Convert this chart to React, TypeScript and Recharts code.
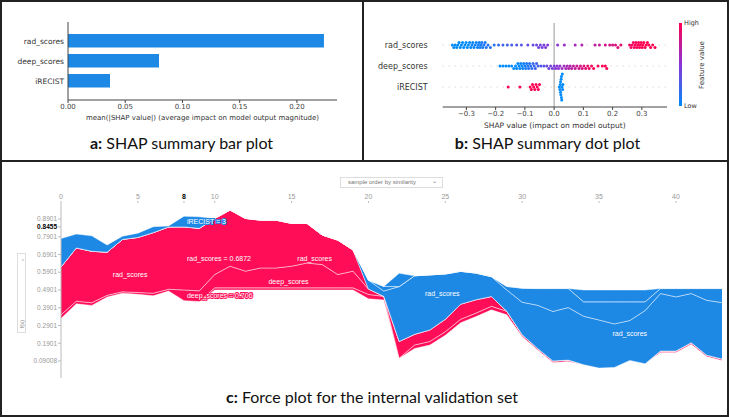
import React from 'react'
import {
  BarChart, Bar, XAxis, YAxis, ScatterChart, Scatter, ReferenceLine,
  ComposedChart, Area, ReferenceDot,
} from 'recharts'

// ---- panel a: mean |SHAP| ----
const features = ['rad_scores', 'deep_scores', 'iRECIST']
const meanAbsShap = [0.2236, 0.0795, 0.0367]
const barTicks = [0, 0.05, 0.1, 0.15, 0.2]

// ---- panel b: SHAP values per sample (dot plot) ----
const radDots = [
  -0.348, -0.343, -0.338, -0.333, -0.329, -0.325, -0.321, -0.317, -0.313, -0.309, -0.305, -0.301,
  -0.297, -0.293, -0.289, -0.285, -0.281, -0.278, -0.274, -0.27, -0.266, -0.262, -0.259, -0.256,
  -0.253, -0.25, -0.247, -0.244, -0.24, -0.236, -0.232, -0.226, -0.218,
  -0.205, -0.19, -0.175, -0.16, -0.145, -0.128, -0.112,
  -0.09, -0.072, -0.06, -0.053, -0.047, -0.041, -0.035, -0.029, -0.022,
  0.012, 0.035, 0.072, 0.095,
  0.14, 0.155, 0.175, 0.19, 0.2, 0.21, 0.218, 0.228,
  0.258, 0.263, 0.267, 0.271, 0.274, 0.277, 0.28, 0.283, 0.286, 0.289, 0.292, 0.295, 0.298,
  0.301, 0.304, 0.307, 0.311, 0.315, 0.319, 0.324, 0.33, 0.337, 0.345,
]
const deepDots = [
  -0.185, -0.175, -0.165, -0.155, -0.145, -0.138, -0.132, -0.128, -0.124, -0.12, -0.117, -0.114,
  -0.11, -0.107, -0.104, -0.1, -0.097, -0.094, -0.09, -0.087, -0.084, -0.08, -0.076, -0.072,
  -0.068, -0.064, -0.06, -0.055, -0.045, -0.035, -0.025, -0.018, -0.012, -0.006, 0, 0.005, 0.01,
  0.015, 0.02, 0.027, 0.034, 0.04, 0.045, 0.05, 0.055, 0.06, 0.066, 0.072, 0.078, 0.085, 0.09,
  0.096, 0.102, 0.108, 0.115, 0.12, 0.128, 0.135, 0.15, 0.165, 0.175, 0.18,
]
const irecDots = [
  -0.157, -0.117, -0.082, -0.078, -0.074, -0.07, -0.066, -0.062, -0.058, -0.054, -0.05,
  0.018, 0.02, 0.021, 0.022, 0.023, 0.024, 0.025, 0.026, 0.027, 0.028, 0.029, 0.03, 0.022, 0.025,
]
const dotTicks = [-0.3, -0.2, -0.1, 0, 0.1, 0.2, 0.3]

// ---- panel c: force plot, SHAP per sample ----
const baseValue = 0.4901
const radShap = [
  0.27, 0.3, 0.29, 0.243, 0.295, 0.31, 0.341, 0.351, 0.3554, 0.352,
  0.316, 0.316, 0.297, 0.269, 0.269, 0.241, 0.223, 0.166, 0.194, 0.119,
  -0.05, -0.03, -0.309, -0.33, -0.31, -0.255, -0.185, -0.15, -0.112, -0.12,
  -0.183, -0.243, -0.279, -0.296, -0.273, -0.271, -0.245, -0.225, -0.3, -0.324,
  -0.305, -0.277, -0.309, -0.318,
]
const deepShap = [
  0.02, 0.015, 0.015, 0.01, 0.008, 0.01, 0.015, 0.01, 0.06, 0.06,
  0.075, 0.122, 0.094, 0.112, 0.112, 0.122, 0.14, 0.131, 0.075, 0.094,
  0.03, -0.026, 0.094, 0.06, 0.065, 0.07, 0.085, 0.075, 0.055, -0.02,
  -0.079, -0.094, -0.129, -0.107, -0.081, -0.102, -0.124, -0.105, -0.049, -0.028,
  -0.047, -0.028, -0.066, -0.079,
]
const irecShap = [
  -0.16, -0.078, -0.087, -0.04, -0.018, -0.024, -0.033, -0.006, -0.06, -0.065,
  0.012, 0.012, 0.012, 0.012, 0.012, 0.012, 0.012, 0.012, 0.012, 0.012,
  0.025, 0.02, -0.075, 0.02, 0.02, 0.02, 0.02, 0.02, 0.02, 0.02,
  0.01, 0.008, 0.008, 0.008, -0.067, -0.067, -0.067, -0.067, -0.067, 0.008,
  0.008, 0.008, 0.008, 0.008,
]
const forceXTicks = [0, 5, 8, 10, 15, 20, 25, 30, 35, 40]
const forceYTicks = [0.09008, 0.1901, 0.2901, 0.3901, 0.4901, 0.5901, 0.6901, 0.7901, 0.8901, 0.8455]
const hoverSample = 8
const hoverOutput = 0.8455
const hoverValues = ['rad_scores = 0.6872', 'deep_scores = 0.706', 'iRECIST = 3']
const bandLabels = [
  { text: 'rad_scores', x: 4.5, y: 0.575 },
  { text: 'rad_scores', x: 16.5, y: 0.665 },
  { text: 'deep_scores', x: 14.8, y: 0.54 },
  { text: 'rad_scores', x: 24.8, y: 0.468 },
  { text: 'rad_scores', x: 37, y: 0.243 },
]

const RED = '#ff0d57'
const BLUE = '#1e88e5'
const SANS = 'Liberation Sans, Arial, sans-serif'

// shap red-blue colour map
function mix(t: number) {
  const s = [[0, 139, 251], [138, 52, 214], [255, 0, 82]]
  t = Math.max(0, Math.min(1, t))
  const k = t < 0.5 ? 0 : 1
  const u = t < 0.5 ? t * 2 : (t - 0.5) * 2
  const c = s[k].map((v, j) => Math.round(v + (s[k + 1][j] - v) * u))
  return `rgb(${c[0]},${c[1]},${c[2]})`
}

// simple beeswarm: offsets in row units
function swarm(values: number[], row: number, colorOf: (v: number) => string) {
  const pxPerUnit = 292, rowPx = 21, d = 2.6
  const placed: { x: number; y: number }[] = []
  return [...values].sort((a, b) => a - b).map((v) => {
    const x = v * pxPerUnit
    let k = 0, y = 0
    for (;;) {
      y = k === 0 ? 0 : (k % 2 ? 1 : -1) * Math.ceil(k / 2) * d
      if (placed.every((p) => Math.hypot(p.x - x, p.y - y) >= d)) break
      k++
    }
    placed.push({ x, y })
    return { x: v, y: row + y / rowPx, color: colorOf(v) }
  })
}

const radSwarm = swarm(radDots, 0, (v) => mix((v + 0.3) / 0.6))
const deepSwarm = swarm(deepDots, 1, (v) => mix((v + 0.12) / 0.26))
const irecSwarm = swarm(irecDots, 2, (v) => (v < 0 ? mix(1) : mix(0)))

const barData = features.map((name, i) => ({ name, value: meanAbsShap[i] }))

// stacked bands for force plot
const forceRows = radShap.map((_, i) => {
  const vals: [string, number][] = [['irec', irecShap[i]], ['deep', deepShap[i]], ['rad', radShap[i]]]
  const P = vals.reduce((s, [, v]) => s + Math.max(v, 0), 0)
  const N = vals.reduce((s, [, v]) => s + Math.max(-v, 0), 0)
  const fx = baseValue + P - N
  const row: any = { i, fx }
  let lo = baseValue - N
  for (const [k, v] of vals) {
    const p = Math.max(v, 0)
    row['r_' + k] = [lo, lo + p]
    lo += p
  }
  let hi = fx
  for (const [k, v] of [...vals].reverse()) {
    const n = Math.max(-v, 0)
    row['b_' + k] = [hi, hi + n]
    hi += n
  }
  return row
})

const hv = forceRows[hoverSample]
const mid = (r: number[]) => (r[0] + r[1]) / 2

const OutlinedLabel = (p: any) => {
  const { viewBox, text, color } = p
  return (
    <text x={viewBox.x + 3} y={viewBox.y} dy="0.35em" fontSize={7} fill="#fff"
      stroke={color} strokeWidth={2} paintOrder="stroke" fontFamily={SANS}>
      {text}
    </text>
  )
}

const XTick = (p: any) => {
  const bold = p.payload.value === hoverSample
  return (
    <text x={p.x} y={p.y - 1} textAnchor="middle" fontSize={7} fontWeight={bold ? 'bold' : 'normal'}
      fill={bold ? '#000' : '#999'} fontFamily={SANS}>
      {String(p.payload.value)}
    </text>
  )
}

const YTick = (p: any) => {
  const bold = p.payload.value === hoverOutput
  return (
    <text x={p.x} y={p.y} dy="0.35em" textAnchor="end" fontSize={6.5} fontWeight={bold ? 'bold' : 'normal'}
      fill={bold ? '#000' : '#999'} fontFamily={SANS}>
      {String(p.payload.value)}
    </text>
  )
}

const fmtDot = (v: number) => (v === 0 ? '0.0' : (v < 0 ? '\u2212' : '') + Math.abs(v).toFixed(1))

const caption: React.CSSProperties = {
  position: 'absolute', textAlign: 'center', fontFamily: 'Lato, "Open Sans", sans-serif',
  fontSize: 16, lineHeight: '20px', color: '#111',
}

const forceMargin = { top: 23, right: 8, bottom: 12, left: 0 }

export default function App() {
  return (
    <div style={{ position: 'absolute', left: 0, top: 0, width: 730, height: 417, background: '#fff',
      fontFamily: '"DejaVu Sans", sans-serif', overflow: 'hidden' }}>
      {/* frames */}
      <div style={{ position: 'absolute', left: 0, top: 0, width: 729, height: 417, border: '2px solid #222', boxSizing: 'border-box' }} />
      <div style={{ position: 'absolute', left: 362, top: 0, width: 2, height: 161, background: '#222' }} />
      <div style={{ position: 'absolute', left: 0, top: 160, width: 729, height: 2, background: '#222' }} />

      {/* a */}
      <div style={{ position: 'absolute', left: 0, top: 0 }}>
        <BarChart width={363} height={130} layout="vertical" data={barData}
          margin={{ top: 22, right: 26, bottom: 0, left: 0 }}>
          <XAxis type="number" domain={[0, 0.235]} ticks={barTicks} tickFormatter={(v) => v.toFixed(2)}
            interval={0} tick={{ fontSize: 7, fill: '#444' }} tickSize={3} tickMargin={1} height={30}
            axisLine={{ stroke: '#444' }} tickLine={{ stroke: '#444' }}
            label={{ value: 'mean(|SHAP value|) (average impact on model output magnitude)', position: 'insideBottom',
              offset: 10, fontSize: 7, fill: '#333' }} />
          <YAxis type="category" dataKey="name" width={68} tick={{ fontSize: 7.5, fill: '#333' }}
            tickSize={2} tickMargin={2} tickLine={false} axisLine={{ stroke: '#444' }} padding={{ top: 9, bottom: 9 }} />
          <Bar dataKey="value" fill={BLUE} barSize={13.5} isAnimationActive={false} />
        </BarChart>
      </div>
      <div style={{ ...caption, left: 0, top: 133, width: 363 }}><b>a:</b> SHAP summary bar plot</div>

      {/* b */}
      <div style={{ position: 'absolute', left: 365, top: 0 }}>
        <ScatterChart width={365} height={135} margin={{ top: 23, right: 63, bottom: 0, left: 0 }}>
          <XAxis type="number" dataKey="x" domain={[-0.381, 0.386]} ticks={dotTicks} tickFormatter={fmtDot}
            interval={0} allowDataOverflow tick={{ fontSize: 7, fill: '#444' }} tickSize={3} tickMargin={1} height={28}
            axisLine={{ stroke: '#444' }} tickLine={{ stroke: '#444' }}
            label={{ value: 'SHAP value (impact on model output)', position: 'insideBottom', offset: 7, fontSize: 7.5, fill: '#333' }} />
          <YAxis type="number" dataKey="y" reversed domain={[-1.048, 2.952]} ticks={[0, 1, 2]} allowDataOverflow
            interval={0} tickFormatter={(i) => features[i]} width={77.7} axisLine={false} tickLine={false} tickSize={0}
            tickMargin={15} tick={{ fontSize: 8, fill: '#333' }} />
          {[0, 1, 2].map((r) => (
            <ReferenceLine key={r} y={r} stroke="#ccc" strokeDasharray="1 5" />
          ))}
          <ReferenceLine x={0} stroke="#999" />
          {[radSwarm, deepSwarm, irecSwarm].map((d, k) => (
            <Scatter key={k} data={d} isAnimationActive={false}
              shape={(p: any) => <circle cx={p.cx} cy={p.cy} r={1.5} fill={p.payload.color} />} />
          ))}
        </ScatterChart>
      </div>
      <div style={{ position: 'absolute', left: 679, top: 23, width: 2.5, height: 83,
        background: `linear-gradient(to bottom, ${mix(1)}, ${mix(0.5)}, ${mix(0)})` }} />
      <div style={{ position: 'absolute', left: 684, top: 19, fontSize: 6.5, color: '#333' }}>High</div>
      <div style={{ position: 'absolute', left: 684, top: 102, fontSize: 6.5, color: '#333' }}>Low</div>
      <div style={{ position: 'absolute', left: 702, top: 65, fontSize: 7, color: '#333', whiteSpace: 'nowrap',
        transform: 'translate(-50%, -50%) rotate(-90deg)' }}>Feature value</div>
      <div style={{ ...caption, left: 365, top: 133, width: 365 }}><b>b:</b> SHAP summary dot plot</div>

      {/* c */}
      <div style={{ position: 'absolute', left: 0, top: 160 }}>
        <ComposedChart width={730} height={230} data={forceRows} margin={forceMargin}>
          <XAxis type="number" dataKey="i" orientation="top" domain={[0, 43]} ticks={forceXTicks} height={20}
            interval={0} tick={false} tickLine={false} axisLine={false} />
          <YAxis type="number" domain={[-0.0057, 0.98]} ticks={forceYTicks} allowDataOverflow width={61}
            interval={0} tickSize={3} tickMargin={1} axisLine={{ stroke: '#bbb' }} tickLine={{ stroke: '#bbb' }} tick={<YTick />} />
          {['r_irec', 'r_deep', 'r_rad'].map((k) => (
            <Area key={k} type="linear" dataKey={k} fill={RED} fillOpacity={1} stroke="#fff" strokeOpacity={0.45}
              strokeWidth={1} isAnimationActive={false} dot={false} activeDot={false} />
          ))}
          {['b_rad', 'b_deep', 'b_irec'].map((k) => (
            <Area key={k} type="linear" dataKey={k} fill={BLUE} fillOpacity={1} stroke="#fff" strokeOpacity={0.45}
              strokeWidth={1} isAnimationActive={false} dot={false} activeDot={false} />
          ))}
          {bandLabels.map((l, k) => (
            <ReferenceDot key={k} x={l.x} y={l.y} r={0} stroke="none"
              label={{ value: l.text, position: 'center', fill: '#fff', fontSize: 7, fontFamily: SANS }} />
          ))}
          <ReferenceDot x={hoverSample} y={mid(hv.b_irec)} r={0} stroke="none"
            label={<OutlinedLabel text={hoverValues[2]} color={BLUE} />} />
          <ReferenceDot x={hoverSample} y={mid(hv.r_rad)} r={0} stroke="none"
            label={<OutlinedLabel text={hoverValues[0]} color={RED} />} />
          <ReferenceDot x={hoverSample} y={mid(hv.r_deep)} r={0} stroke="none"
            label={<OutlinedLabel text={hoverValues[1]} color={RED} />} />
        </ComposedChart>
      </div>
      <div style={{ position: 'absolute', left: 340, top: 177, width: 103, height: 11, border: '1px solid #ddd',
        boxSizing: 'border-box', fontSize: 6, color: '#777', lineHeight: '9px', paddingLeft: 7, fontFamily: SANS }}>
        sample order by similarity<span style={{ position: 'absolute', right: 5, top: -1 }}>⌄</span>
      </div>
      <div style={{ position: 'absolute', left: 17, top: 253, width: 9, height: 80, border: '1px solid #ddd',
        boxSizing: 'border-box', fontSize: 6, color: '#888', fontFamily: SANS }}>
        <div style={{ position: 'absolute', left: 3.5, top: 6, transform: 'translate(-50%, -50%) rotate(-90deg)' }}>›</div>
        <div style={{ position: 'absolute', left: 3.5, top: 70, whiteSpace: 'nowrap',
          transform: 'translate(-50%, -50%) rotate(-90deg)' }}>f(x)</div>
      </div>
      <div style={{ ...caption, left: 7, top: 387, width: 730 }}><b>c:</b> Force plot for the internal validation set</div>

      {/* sample-index axis of the force plot, drawn on top */}
      <div style={{ position: 'absolute', left: 0, top: 160, pointerEvents: 'none' }}>
        <ComposedChart width={730} height={230} data={forceRows} margin={forceMargin}>
          <XAxis type="number" dataKey="i" orientation="top" domain={[0, 43]} ticks={forceXTicks} height={20}
            interval={0} tickSize={2} tickMargin={1} axisLine={false} tickLine={{ stroke: '#bbb' }} tick={<XTick />} />
          <YAxis type="number" domain={[-0.0057, 0.98]} width={61} tick={false} tickLine={false} axisLine={false} />
        </ComposedChart>
      </div>
    </div>
  )
}
